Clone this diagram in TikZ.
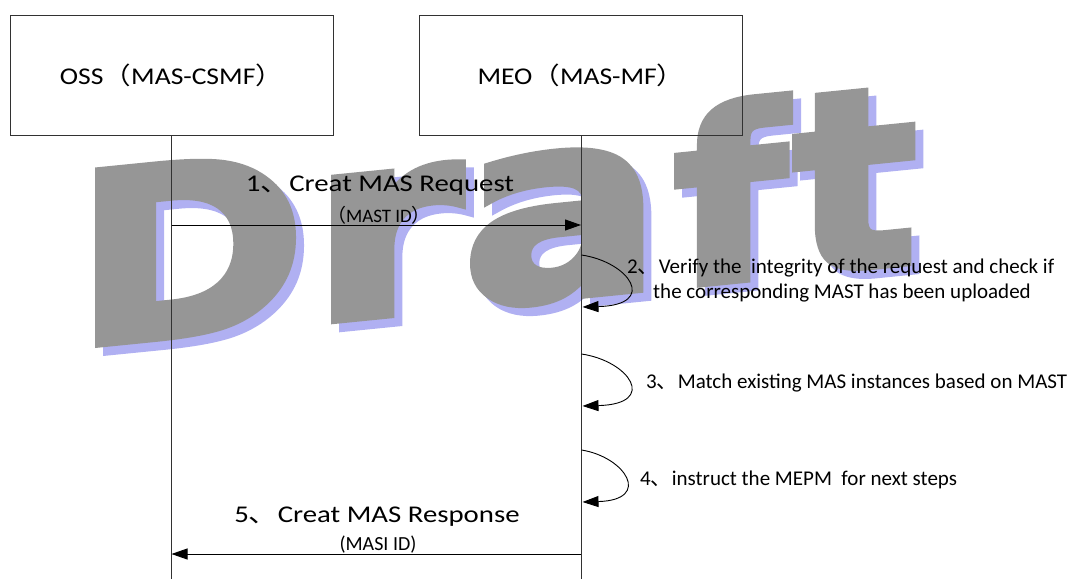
\documentclass[tikz,border=0pt]{standalone}
\usepackage{fontspec}
\usepackage{graphicx}
\setmainfont{Carlito}
\newfontfamily\cjk{Noto Sans CJK SC}
\newfontfamily\wmfont{DejaVu Sans}
\usetikzlibrary{arrows.meta}
\definecolor{wmgray}{RGB}{150,150,150}
\definecolor{wmblue}{RGB}{176,176,242}
\definecolor{linegray}{RGB}{50,50,50}
\newcommand{\cjkdun}{{\cjk 、}}
\newcommand{\cjklp}{{\cjk （}}
\newcommand{\cjkrp}{{\cjk ）}}
\newcommand{\widetxt}[2]{\scalebox{#1}[1]{#2}}
\newcommand{\wmheavy}[1]{\special{pdf:literal direct 2 Tr 7 w}#1\special{pdf:literal direct 0 Tr 1 w}}
\tikzset{
  actorbox/.style={draw=linegray, line width=0.9pt, minimum width=323pt, minimum height=120pt, inner sep=0pt, font=\fontsize{24}{28}\selectfont},
  lifeline/.style={draw=linegray, line width=0.9pt},
  msg/.style={draw=black, line width=0.9pt, -{Triangle[length=16pt,width=11pt]}},
  msgtxt/.style={anchor=base, inner sep=0pt, font=\fontsize{24}{28}\selectfont},
  paramtxt/.style={anchor=base, inner sep=0pt, font=\fontsize{19}{22}\selectfont},
  notetxt/.style={anchor=base west, inner sep=0pt, font=\fontsize{21}{25}\selectfont},
  wlet/.style={anchor=base, inner sep=0pt, font=\wmfont\bfseries\fontsize{238}{238}\selectfont, yslant=0.1},
  wfg/.style={wlet, text=wmgray},
  wbg/.style={wlet, text=wmblue}
}
\begin{document}
\begin{tikzpicture}[x=1pt,y=-1pt]
\useasboundingbox (0,0) rectangle (1069,579);
% watermark: shadow
\node[wbg, xscale=1.18] (sd) at (198,343) {\wmheavy{D}};
\node[wbg, xscale=1.3, yscale=1.09] (sr) at (394,323) {\wmheavy{r}};
\node[wbg, xscale=1.25, yscale=1.09] (sa) at (570,305) {\wmheavy{a}};
\node[wbg, xscale=1.1] (sf) at (738,289) {\wmheavy{f}};
\node[wbg, xscale=1.1, yscale=1.05] (st) at (863,276) {\wmheavy{t}};
% watermark: letters
\node[wfg, xscale=1.18] (wd) at (190,335) {\wmheavy{D}};
\node[wfg, xscale=1.3, yscale=1.09] (wr) at (386,315) {\wmheavy{r}};
\node[wfg, xscale=1.25, yscale=1.09] (wa) at (562,297) {\wmheavy{a}};
\node[wfg, xscale=1.1] (wf) at (730,281) {\wmheavy{f}};
\node[wfg, xscale=1.1, yscale=1.05] (wt) at (855,268) {\wmheavy{t}};
% actors
\node[actorbox] (oss) at (171.5,75) {\widetxt{1.15}{OSS\cjklp MAS-CSMF\cjkrp}};
\node[actorbox] (meo) at (581,75) {\widetxt{1.15}{MEO\cjklp MAS-MF\cjkrp}};
\coordinate (ossend) at (171.5,579);
\coordinate (meoend) at (581,579);
\draw[lifeline] (oss.south) -- (ossend);
\draw[lifeline] (meo.south) -- (meoend);
% message 1
\coordinate (o1) at (171.5,225);
\coordinate (m1) at (581,225);
\draw[msg] (o1) -- (m1);
\node[msgtxt] (l1) at (380,191) {\widetxt{1.2}{1\cjkdun Creat MAS Request}};
\node[paramtxt] (p1) at (379,222) {\cjklp MAST ID\cjkrp};
% step 2
\coordinate (s2a) at (581.5,255);
\coordinate (s2b) at (582.5,307);
\draw[msg] (s2a) .. controls +(48,7) and +(76,-2) .. (s2b);
\node[notetxt] (n2a) at (627,273) {2\cjkdun Verify the\ \ integrity of the request and check if};
\node[notetxt] (n2b) at (653,298) {the corresponding MAST has been uploaded};
% step 3
\coordinate (s3a) at (581.5,354);
\coordinate (s3b) at (582.5,406);
\draw[msg] (s3a) .. controls +(48,7) and +(76,-2) .. (s3b);
\node[notetxt] (n3) at (646,388) {3\cjkdun Match existing MAS instances based on MAST};
% step 4
\coordinate (s4a) at (581.5,450);
\coordinate (s4b) at (582.5,502);
\draw[msg] (s4a) .. controls +(44,7) and +(70,-2) .. (s4b);
\node[notetxt] (n4) at (640,485) {4\cjkdun instruct the MEPM\ \ for next steps};
% message 5
\coordinate (m5) at (581,554);
\coordinate (o5) at (171.5,554);
\draw[msg] (m5) -- (o5);
\node[msgtxt] (l5) at (377,522) {\widetxt{1.2}{5\cjkdun Creat MAS Response}};
\node[paramtxt, font=\fontsize{20}{23}\selectfont] (p5) at (378,550) {(MASI ID)};
\end{tikzpicture}
\end{document}
